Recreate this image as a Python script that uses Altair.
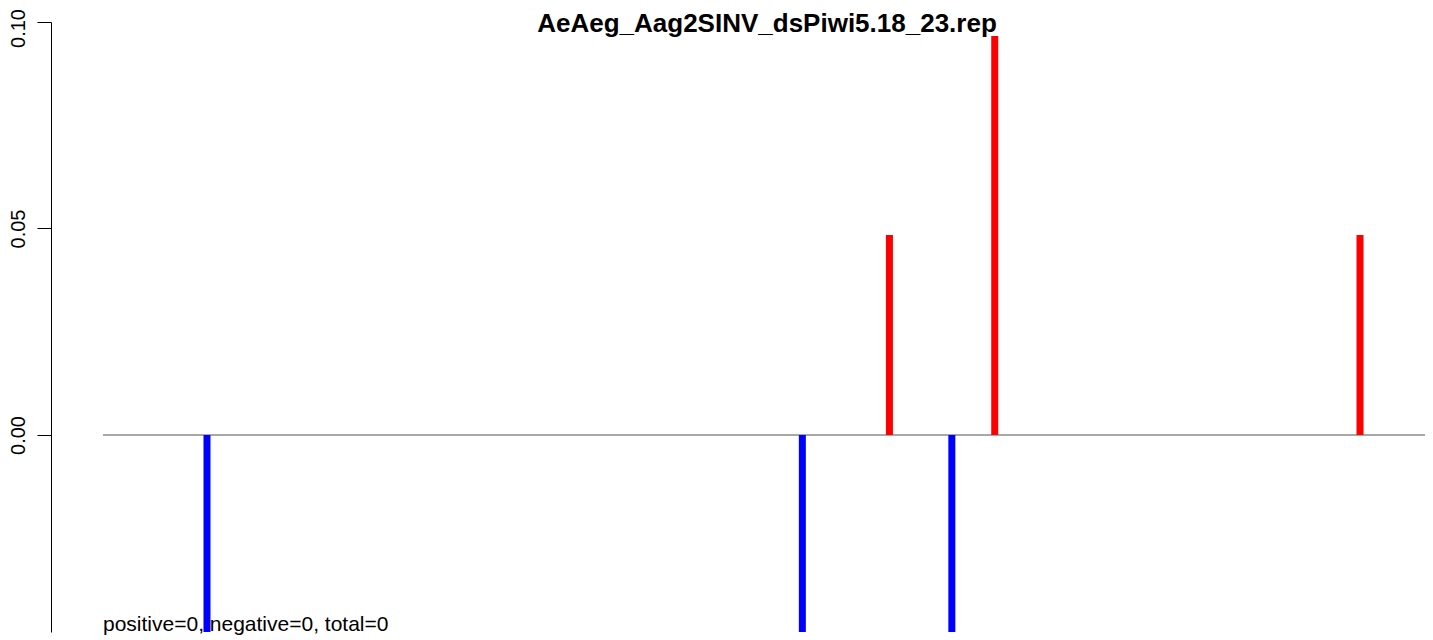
import altair as alt
import pandas as pd

# ---- data ----
title_text = "AeAeg_Aag2SINV_dsPiwi5.18_23.rep"
note_text = "positive=0, negative=0, total=0"
positions = [80, 538, 605, 653, 686, 967]
values = [-0.048, -0.048, 0.0484, -0.048, 0.0966, 0.0484]
strands = ["negative", "negative", "positive", "negative", "positive", "positive"]
strand_names = ["positive", "negative"]
strand_colors = ["#FF0000", "#0000FF"]
x_domain = [-40, 1017]
y_domain = [-0.0477, 0.10]
y_ticks = [0.0, 0.05, 0.10]
baseline_x = [0, 1017]

FONT = "Liberation Sans"
W, H = 1374, 610

bars_df = pd.DataFrame({"pos": positions, "value": values, "strand": strands})
base_df = pd.DataFrame({"x": [baseline_x[0]], "x2": [baseline_x[1]], "y": [0.0]})

xs = alt.Scale(domain=x_domain, nice=False, zero=False)
ys = alt.Scale(domain=y_domain, nice=False, zero=False, clamp=True)

yaxis = alt.Axis(
    values=y_ticks, format=".2f", grid=False, title=None,
    labelAngle=270, labelAlign="center", labelBaseline="alphabetic",
    labelPadding=13, tickSize=14, labelFontSize=20, labelFont=FONT,
    labelColor="black", tickColor="black", domainColor="black",
    tickWidth=1, domainWidth=1, labelOverlap=False,
    labelOffset={"condition": {"test": "datum.value >= 0.099", "value": 6}, "value": 0},
)

baseline = alt.Chart(base_df).mark_rule(color="#A8A8A8", strokeWidth=2).encode(
    x=alt.X("x:Q", scale=xs, axis=None),
    x2="x2:Q",
    y=alt.Y("y:Q", scale=ys, axis=yaxis),
)

bars = alt.Chart(bars_df).mark_rule(strokeWidth=7, strokeCap="butt", clip=True).encode(
    x=alt.X("pos:Q", scale=xs, axis=None),
    y=alt.Y("value:Q", scale=ys),
    y2=alt.datum(0),
    color=alt.Color("strand:N", scale=alt.Scale(domain=strand_names, range=strand_colors), legend=None),
)

title = alt.Chart(pd.DataFrame({"t": [title_text]})).mark_text(
    font=FONT, fontSize=26, fontWeight="bold", align="center", baseline="alphabetic", color="black"
).encode(x=alt.value(716), y=alt.value(10), text="t:N")

note = alt.Chart(pd.DataFrame({"t": [note_text], "x": [0]})).mark_text(
    font=FONT, fontSize=21, align="left", baseline="alphabetic", color="black"
).encode(x=alt.X("x:Q", scale=xs), y=alt.value(H - 1), text="t:N")

chart = alt.layer(baseline, bars, note, title).properties(
    width=W, height=H,
    autosize=alt.AutoSizeParams(type="none"),
    padding={"left": 43, "top": 14, "right": 0, "bottom": 6},
    background="white",
).configure_view(stroke=None)

chart.save("out.html", embed_options={"renderer": "svg", "actions": False})
